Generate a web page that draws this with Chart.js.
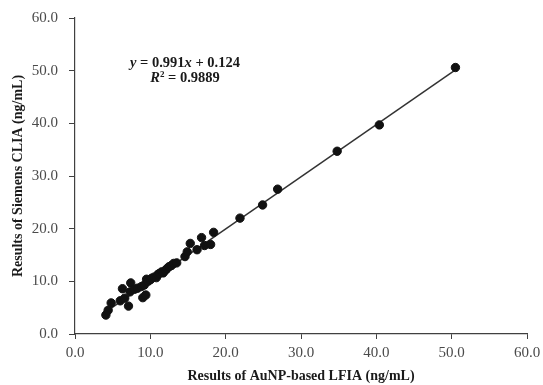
<!DOCTYPE html>
<html>
<head>
<meta charset="utf-8">
<script src="https://cdn.jsdelivr.net/npm/chart.js@4/dist/chart.umd.min.js"></script>
<style>
html,body{margin:0;padding:0;background:#fff;}
#wrap{width:543px;height:385px;position:relative;}
</style>
</head>
<body>
<div id="wrap"><canvas id="c" width="543" height="385"></canvas></div>
<script>
// AuNP-based LFIA (x) vs Siemens CLIA (y), ng/mL
const lfia = [4.1,4.4,4.8,6.0,6.3,6.6,7.1,7.3,7.4,7.9,8.3,8.8,9.0,9.4,9.2,9.5,9.7,10.0,10.2,10.5,10.8,11.0,11.2,11.5,11.7,12.0,12.2,12.5,12.8,13.1,13.5,14.6,14.9,15.3,16.2,16.8,17.2,18.0,18.4,21.9,24.9,26.9,34.8,40.4,50.5];
const clia = [3.6,4.5,5.9,6.3,8.6,6.8,5.3,8.0,9.7,8.5,8.7,9.0,6.9,7.4,9.3,10.4,10.0,10.3,10.6,10.8,10.7,11.3,11.5,11.8,11.6,12.1,12.4,12.8,13.0,13.4,13.5,14.7,15.6,17.2,16.0,18.3,16.8,17.0,19.3,22.0,24.5,27.5,34.7,39.7,50.6];
// Fitted trendline endpoints (y = 0.991x + 0.124)
const trendX = [4.1, 50.5];
const trendY = [4.19, 50.17];
const axisTicks = [0,10,20,30,40,50,60];
const eqLine1 = [["y", true], [" = 0.991", false], ["x", true], [" + 0.124", false]];
const eqLine2Text = "0.9889";

const points = lfia.map((v,i)=>({x:v, y:clia[i]}));
const trend = trendX.map((v,i)=>({x:v, y:trendY[i]}));

const FONT = "'Liberation Serif', 'Times New Roman', serif";
const axisColor = '#404040';
const tickColor = '#4a4a4a';
const EQ = 14.5;

const annot = {
  id:'annot',
  afterDatasetsDraw(chart){
    const ctx = chart.ctx;
    const xs = chart.scales.x, ys = chart.scales.y;
    const cx = xs.getPixelForValue(14.6);
    const y1 = ys.getPixelForValue(51.5);
    const y2 = ys.getPixelForValue(48.5);
    ctx.save();
    ctx.fillStyle = '#1a1a1a';
    ctx.textBaseline = 'middle';
    ctx.textAlign='left';
    let w = 0;
    const segs = eqLine1.map(([t,it])=>{
      ctx.font = (it?'italic ':'') + 'bold ' + EQ + 'px ' + FONT;
      const sw = ctx.measureText(t).width; w += sw; return [t,it,sw];
    });
    let x = cx - w/2;
    segs.forEach(([t,it,sw])=>{
      ctx.font = (it?'italic ':'') + 'bold ' + EQ + 'px ' + FONT;
      ctx.fillText(t, x, y1); x += sw;
    });
    ctx.font = 'italic bold ' + EQ + 'px ' + FONT;
    const wR = ctx.measureText('R').width;
    ctx.font = 'bold 9px ' + FONT;
    const w2 = ctx.measureText('2').width;
    ctx.font = 'bold ' + EQ + 'px ' + FONT;
    const rest = ' = ' + eqLine2Text;
    const wr = ctx.measureText(rest).width;
    x = cx - (wR+w2+wr)/2;
    ctx.font = 'italic bold ' + EQ + 'px ' + FONT;
    ctx.fillText('R', x, y2); x += wR;
    ctx.font = 'bold 9px ' + FONT;
    ctx.fillText('2', x, y2-4); x += w2;
    ctx.font = 'bold ' + EQ + 'px ' + FONT;
    ctx.fillText(rest, x, y2);
    ctx.restore();
  }
};

new Chart(document.getElementById('c'), {
  type:'scatter',
  data:{
    datasets:[
      {data:points, backgroundColor:'#111', borderColor:'#111', pointRadius:4.2, pointHoverRadius:4.2, order:1},
      {type:'line', data:trend, borderColor:'#333', borderWidth:1.5, pointRadius:0, fill:false, order:2}
    ]
  },
  options:{
    responsive:false,
    animation:false,
    plugins:{legend:{display:false}, tooltip:{enabled:false}},
    layout:{padding:{left:0, right:16, top:18, bottom:0}},
    scales:{
      x:{
        type:'linear', min:0, max:60,
        afterBuildTicks(s){ s.ticks = axisTicks.map(v=>({value:v})); },
        afterFit(s){ s.height = 51; s.paddingLeft = 0; s.paddingRight = 0; },
        ticks:{callback:v=>v.toFixed(1), color:tickColor, font:{family:FONT, size:15}, padding:5, maxRotation:0},
        grid:{drawOnChartArea:false, tickLength:5, color:axisColor, tickColor:axisColor},
        border:{color:axisColor, width:1.2},
        title:{display:true, text:'Results of AuNP-based LFIA (ng/mL)', color:'#1a1a1a', font:{family:FONT, size:14, weight:'bold'}, padding:{top:2,bottom:0}}
      },
      y:{
        type:'linear', min:0, max:60,
        afterBuildTicks(s){ s.ticks = axisTicks.map(v=>({value:v})); },
        afterFit(s){ s.width = 75; s.paddingTop = 0; s.paddingBottom = 0; },
        ticks:{callback:v=>v.toFixed(1), color:tickColor, font:{family:FONT, size:15}, padding:11},
        grid:{drawOnChartArea:false, tickLength:6, color:axisColor, tickColor:axisColor},
        border:{color:axisColor, width:1.2},
        title:{display:true, text:'Results of Siemens CLIA (ng/mL)', color:'#1a1a1a', font:{family:FONT, size:14, weight:'bold'}, padding:{top:10,bottom:0}}
      }
    }
  },
  plugins:[annot]
});
</script>
</body>
</html>
